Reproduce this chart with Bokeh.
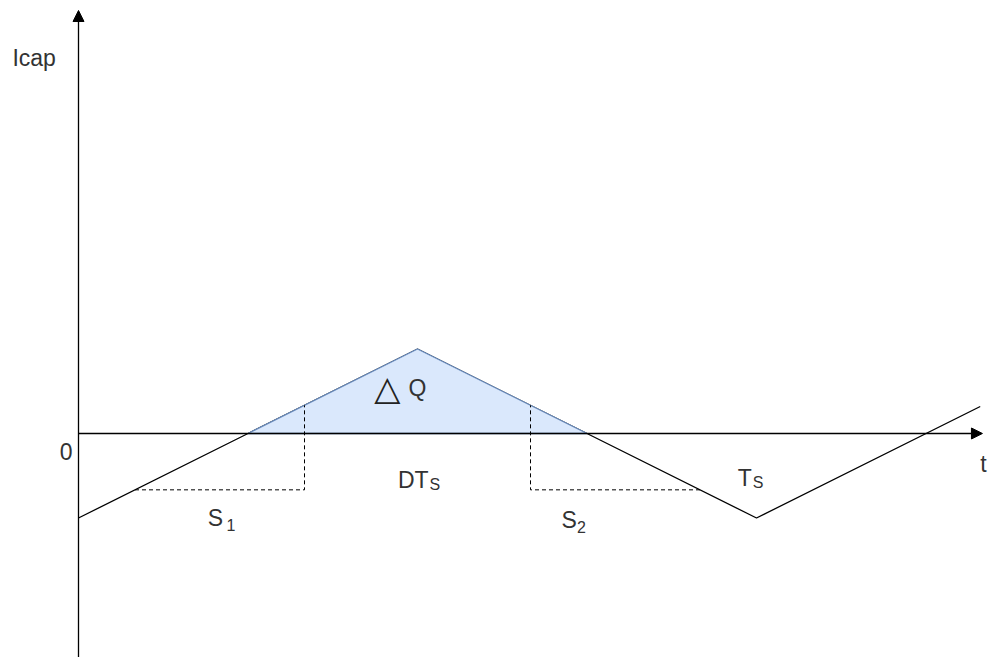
from bokeh.plotting import figure
from bokeh.models import Range1d, Arrow, NormalHead
from bokeh.core.properties import value
from bokeh.embed import file_html
from bokeh.resources import INLINE

# Waveform of capacitor current (time in units, current in units)
t_wave = [0, 1, 2, 3, 4, 5.32]
i_wave = [-1, 0, 1, 0, -1, 0.32]

# Shaded charge area (delta Q)
t_charge = [1, 2, 3]
i_charge = [0, 1, 0]

# Dashed construction lines
t_dash1 = [1 / 3, 4 / 3, 4 / 3]
i_dash1 = [-2 / 3, -2 / 3, 1 / 3]
t_dash2 = [11 / 3, 8 / 3, 8 / 3]
i_dash2 = [-2 / 3, -2 / 3, 1 / 3]

# Axes extents
y_axis_bottom = -2.7
y_axis_top = 5.006
x_axis_end = 5.333

# Labels
main_labels = ["Icap", "0", "Q", "DT", "S", "S", "T", "t"]
main_x = [-0.39, -0.11, 1.947, 1.885, 0.762, 2.85, 3.89, 5.32]
main_y = [4.445, -0.218, 0.539, -0.55, -0.999, -1.023, -0.526, -0.36]
sub_labels = ["S", "1", "2", "S"]
sub_x = [2.071, 0.873, 2.941, 3.978]
sub_y = [-0.609, -1.082, -1.106, -0.585]
delta_label = ["△"]
delta_x = [1.745]
delta_y = [0.539]

p = figure(width=989, height=657, output_backend="svg", toolbar_location=None,
           x_range=Range1d(-0.46018, 5.37463), y_range=Range1d(-2.65089, 5.12426),
           min_border=0)
p.axis.visible = False
p.grid.visible = False
p.outline_line_color = None
p.background_fill_color = "white"

# waveform
p.line(t_wave, i_wave, line_color="black", line_width=1.3)

# axes with arrows
p.add_layout(Arrow(end=NormalHead(size=11, fill_color="black", line_color="black"),
                   x_start=0, y_start=y_axis_bottom, x_end=0, y_end=y_axis_top,
                   line_color="black", line_width=1.3))
p.add_layout(Arrow(end=NormalHead(size=11, fill_color="black", line_color="black"),
                   x_start=0, y_start=0, x_end=x_axis_end, y_end=0,
                   line_color="black", line_width=1.3))

# shaded delta Q
p.patch(t_charge, i_charge, fill_color="#dae8fc", line_color="#6c8ebf", line_width=1.3)

# dashed lines
p.line(t_dash1, i_dash1, line_color="black", line_width=1, line_dash="4 3")
p.line(t_dash2, i_dash2, line_color="black", line_width=1, line_dash="4 3")

font = value("Liberation Sans")
p.text(main_x, main_y, text=main_labels, text_font=font, text_font_size="23px",
       text_color="#333333", text_baseline="alphabetic", text_align="left")
p.text(sub_x, sub_y, text=sub_labels, text_font=font, text_font_size="16px",
       text_color="#333333", text_baseline="alphabetic", text_align="left")
p.text(delta_x, delta_y, text=delta_label, text_font=value("DejaVu Sans"), text_font_size="34px",
       text_color="#222222", text_baseline="alphabetic", text_align="left")

open("out.html", "w").write(file_html(p, INLINE))
